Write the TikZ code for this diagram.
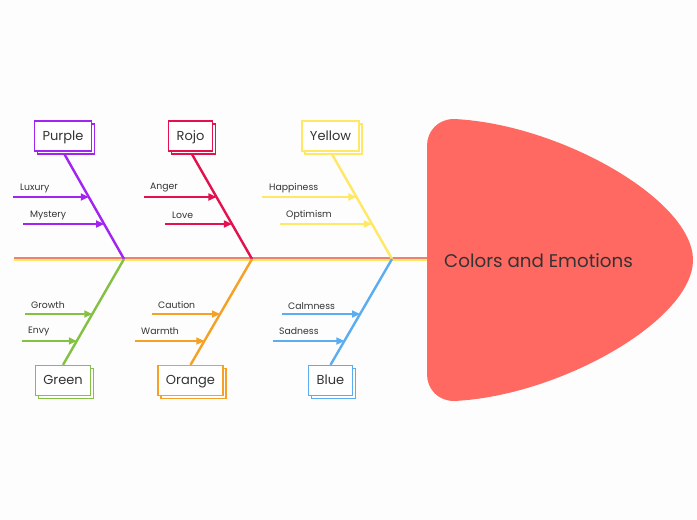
\documentclass[tikz,border=0pt]{standalone}
\usepackage{fontspec}
\setmainfont{Poppins}
\usetikzlibrary{arrows.meta,shadows}
\definecolor{cpurple}{HTML}{A124F0}
\definecolor{crojo}{HTML}{E3124F}
\definecolor{cyellow}{HTML}{FFE866}
\definecolor{cgreen}{HTML}{84C142}
\definecolor{corange}{HTML}{F5A125}
\definecolor{cblue}{HTML}{5BADF2}
\definecolor{chead}{HTML}{FF6961}
\definecolor{csalmon}{HTML}{EE8070}
\definecolor{ctext}{HTML}{333333}
\definecolor{cbg}{HTML}{FDFDFD}
\tikzset{
  catbox/.style={draw=#1, fill=white, line width=1.3pt, text=ctext,
    minimum height=30pt, inner xsep=8pt, font=\fontsize{13}{15}\selectfont,
    text depth=2pt, text height=10pt,
    copy shadow={shadow xshift=3pt, shadow yshift=-3pt}},
  bone/.style={draw=#1, line width=2.4pt},
  subarrow/.style={draw=#1, line width=1.7pt,
    -{Triangle[length=8pt,width=7pt]}},
  sublabel/.style={text=ctext, anchor=west, inner sep=0pt, font=\fontsize{9.3}{11}\selectfont},
}
\begin{document}
\begin{tikzpicture}[x=1pt,y=-1pt]
\fill[cbg] (0,0) rectangle (697,520);
\useasboundingbox (0,0) rectangle (697,520);
% head
\fill[chead] (427,146) .. controls (427,131) and (438,119) .. (454,119)
  .. controls (560,124) and (693,200) .. (693,260)
  .. controls (693,320) and (560,396) .. (454,401)
  .. controls (438,401) and (427,389) .. (427,374) -- cycle;
\node[anchor=west, text=ctext, inner sep=0pt, font=\fontsize{18.3}{21}\selectfont] (head) at (444,261) {Colors and Emotions};
% spine
\coordinate (tail) at (14,259);
\coordinate (headL) at (427,259);
\coordinate (J1) at (124,259);
\coordinate (J2) at (252,259);
\coordinate (J3) at (392,259);
\draw[csalmon, line width=1.5pt] ([yshift=1.1pt]tail) -- ([yshift=1.1pt]headL);
\draw[cyellow, line width=1.5pt] ([yshift=-1.1pt]tail) -- ([yshift=-1.1pt]headL);
% category boxes
\node[catbox=cpurple] (purple) at (63,136) {Purple};
\node[catbox=crojo] (rojo) at (190.5,136) {Rojo};
\node[catbox=cyellow] (yellow) at (330.5,136) {Yellow};
\node[catbox=cgreen] (green) at (63,380.5) {Green};
\node[catbox=corange] (orange) at (190.5,380.5) {Orange};
\node[catbox=cblue] (blue) at (330.5,380.5) {Blue};
% bones
\draw[bone=cpurple, shorten <=3pt] (purple.south) -- (J1);
\draw[bone=crojo, shorten <=3pt] (rojo.south) -- (J2);
\draw[bone=cyellow, shorten <=3pt] (yellow.south) -- (J3);
\draw[bone=cgreen] (J1) -- (green.north);
\draw[bone=corange] (J2) -- (orange.north);
\draw[bone=cblue] (J3) -- (blue.north);
% sub arrows: purple
\coordinate (p1s) at (13,197);
\coordinate (p1e) at (intersection of purple.south--J1 and 0,197--100,197);
\draw[subarrow=cpurple] (p1s) -- (p1e);
\node[sublabel] (lux) at (20,188) {Luxury};
\coordinate (p2s) at (23,224);
\coordinate (p2e) at (intersection of purple.south--J1 and 0,224--100,224);
\draw[subarrow=cpurple] (p2s) -- (p2e);
\node[sublabel] (mys) at (30,215) {Mystery};
% rojo
\coordinate (r1s) at (144,197);
\coordinate (r1e) at (intersection of rojo.south--J2 and 0,197--100,197);
\draw[subarrow=crojo] (r1s) -- (r1e);
\node[sublabel] (ang) at (150,188) {Anger};
\coordinate (r2s) at (165,224);
\coordinate (r2e) at (intersection of rojo.south--J2 and 0,224--100,224);
\draw[subarrow=crojo] (r2s) -- (r2e);
\node[sublabel] (lov) at (172,215) {Love};
% yellow
\coordinate (y1s) at (262,197);
\coordinate (y1e) at (intersection of yellow.south--J3 and 0,197--100,197);
\draw[subarrow=cyellow] (y1s) -- (y1e);
\node[sublabel] (hap) at (269,188) {Happiness};
\coordinate (y2s) at (280,224);
\coordinate (y2e) at (intersection of yellow.south--J3 and 0,224--100,224);
\draw[subarrow=cyellow] (y2s) -- (y2e);
\node[sublabel] (opt) at (286,215) {Optimism};
% green
\coordinate (g1s) at (25,314);
\coordinate (g1e) at (intersection of green.north--J1 and 0,314--100,314);
\draw[subarrow=cgreen] (g1s) -- (g1e);
\node[sublabel] (gro) at (31,305) {Growth};
\coordinate (g2s) at (22,341);
\coordinate (g2e) at (intersection of green.north--J1 and 0,341--100,341);
\draw[subarrow=cgreen] (g2s) -- (g2e);
\node[sublabel] (env) at (28,331) {Envy};
% orange
\coordinate (o1s) at (152,314);
\coordinate (o1e) at (intersection of orange.north--J2 and 0,314--100,314);
\draw[subarrow=corange] (o1s) -- (o1e);
\node[sublabel] (cau) at (158,305) {Caution};
\coordinate (o2s) at (135,341);
\coordinate (o2e) at (intersection of orange.north--J2 and 0,341--100,341);
\draw[subarrow=corange] (o2s) -- (o2e);
\node[sublabel] (war) at (141,331) {Warmth};
% blue
\coordinate (b1s) at (282,314);
\coordinate (b1e) at (intersection of blue.north--J3 and 0,314--100,314);
\draw[subarrow=cblue] (b1s) -- (b1e);
\node[sublabel] (cal) at (288,306) {Calmness};
\coordinate (b2s) at (273,341);
\coordinate (b2e) at (intersection of blue.north--J3 and 0,341--100,341);
\draw[subarrow=cblue] (b2s) -- (b2e);
\node[sublabel] (sad) at (279,331) {Sadness};
\end{tikzpicture}
\end{document}
